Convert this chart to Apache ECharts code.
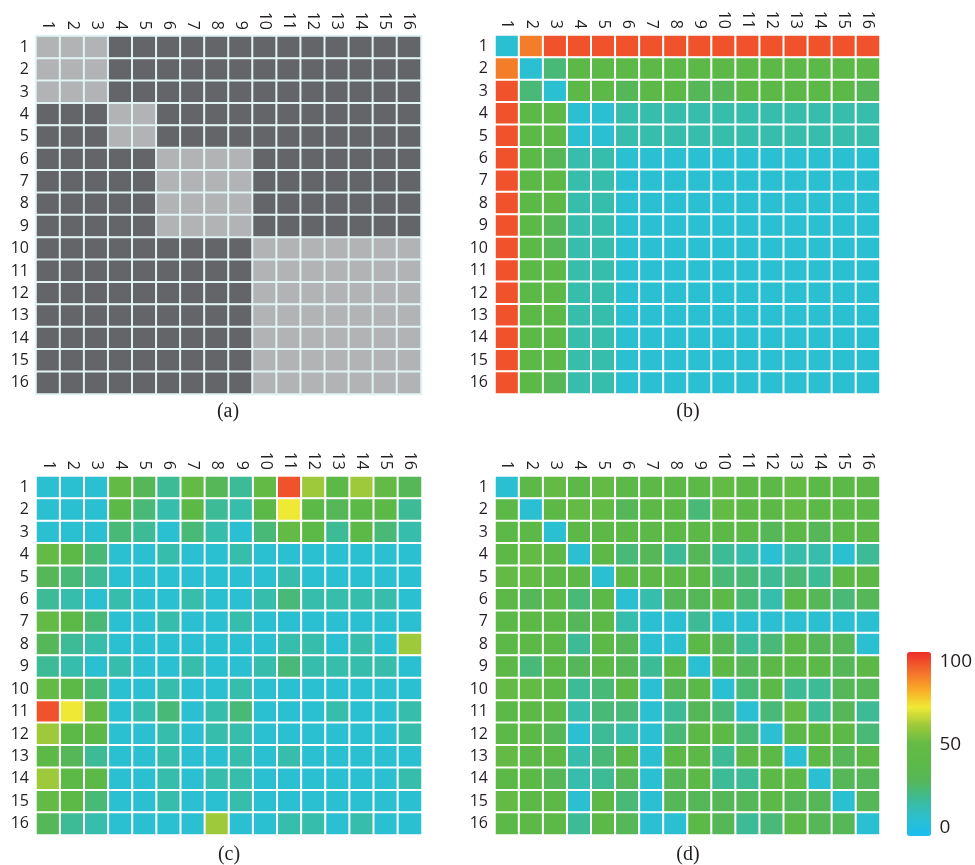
<!DOCTYPE html>
<html>
<head>
<meta charset="utf-8">
<script src="https://cdn.jsdelivr.net/npm/echarts@6/dist/echarts.min.js"></script>
<style>
  html, body { margin: 0; padding: 0; background: #fff; }
  #main { width: 975px; height: 865px; }
</style>
</head>
<body>
<div id="main"></div>
<script>
// axis tick labels (rows and columns)
const labels = ['1', '2', '3', '4', '5', '6', '7', '8', '9', '10', '11', '12', '13', '14', '15', '16'];
const captions = ['(a)', '(b)', '(c)', '(d)'];
const colorbarTicks = [0, 50, 100];

// (a) block membership: 1 = same block (light), 0 = other (dark)
const matA = [
  [1, 1, 1, 0, 0, 0, 0, 0, 0, 0, 0, 0, 0, 0, 0, 0],
  [1, 1, 1, 0, 0, 0, 0, 0, 0, 0, 0, 0, 0, 0, 0, 0],
  [1, 1, 1, 0, 0, 0, 0, 0, 0, 0, 0, 0, 0, 0, 0, 0],
  [0, 0, 0, 1, 1, 0, 0, 0, 0, 0, 0, 0, 0, 0, 0, 0],
  [0, 0, 0, 1, 1, 0, 0, 0, 0, 0, 0, 0, 0, 0, 0, 0],
  [0, 0, 0, 0, 0, 1, 1, 1, 1, 0, 0, 0, 0, 0, 0, 0],
  [0, 0, 0, 0, 0, 1, 1, 1, 1, 0, 0, 0, 0, 0, 0, 0],
  [0, 0, 0, 0, 0, 1, 1, 1, 1, 0, 0, 0, 0, 0, 0, 0],
  [0, 0, 0, 0, 0, 1, 1, 1, 1, 0, 0, 0, 0, 0, 0, 0],
  [0, 0, 0, 0, 0, 0, 0, 0, 0, 1, 1, 1, 1, 1, 1, 1],
  [0, 0, 0, 0, 0, 0, 0, 0, 0, 1, 1, 1, 1, 1, 1, 1],
  [0, 0, 0, 0, 0, 0, 0, 0, 0, 1, 1, 1, 1, 1, 1, 1],
  [0, 0, 0, 0, 0, 0, 0, 0, 0, 1, 1, 1, 1, 1, 1, 1],
  [0, 0, 0, 0, 0, 0, 0, 0, 0, 1, 1, 1, 1, 1, 1, 1],
  [0, 0, 0, 0, 0, 0, 0, 0, 0, 1, 1, 1, 1, 1, 1, 1],
  [0, 0, 0, 0, 0, 0, 0, 0, 0, 1, 1, 1, 1, 1, 1, 1]
];

// (b)
const matB = [
  [9, 87, 94, 94, 94, 94, 94, 94, 94, 94, 94, 94, 94, 94, 94, 94],
  [87, 9, 25, 40, 40, 40, 40, 40, 40, 40, 40, 40, 40, 40, 40, 40],
  [94, 25, 9, 40, 40, 31, 40, 40, 31, 31, 40, 40, 40, 40, 40, 31],
  [94, 40, 40, 9, 9, 16, 16, 16, 16, 16, 16, 16, 16, 16, 16, 16],
  [94, 40, 40, 9, 9, 16, 16, 16, 16, 16, 16, 16, 16, 16, 16, 16],
  [94, 40, 31, 16, 16, 9, 9, 9, 9, 9, 9, 9, 9, 9, 9, 9],
  [94, 40, 40, 16, 16, 9, 9, 9, 9, 9, 9, 9, 9, 9, 9, 9],
  [94, 40, 40, 16, 16, 9, 9, 9, 9, 9, 9, 9, 9, 9, 9, 9],
  [94, 40, 31, 16, 16, 9, 9, 9, 9, 9, 9, 9, 9, 9, 9, 9],
  [94, 40, 31, 16, 16, 9, 9, 9, 9, 9, 9, 9, 9, 9, 9, 9],
  [94, 40, 40, 16, 16, 9, 9, 9, 9, 9, 9, 9, 9, 9, 9, 9],
  [94, 40, 40, 16, 16, 9, 9, 9, 9, 9, 9, 9, 9, 9, 9, 9],
  [94, 40, 40, 16, 16, 9, 9, 9, 9, 9, 9, 9, 9, 9, 9, 9],
  [94, 40, 40, 16, 16, 9, 9, 9, 9, 9, 9, 9, 9, 9, 9, 9],
  [94, 40, 40, 16, 16, 9, 9, 9, 9, 9, 9, 9, 9, 9, 9, 9],
  [94, 40, 31, 16, 16, 9, 9, 9, 9, 9, 9, 9, 9, 9, 9, 9]
];

// (c)
const matC = [
  [9, 9, 9, 48, 31, 20, 48, 31, 20, 48, 94, 60, 40, 60, 48, 31],
  [9, 9, 9, 40, 25, 16, 40, 20, 16, 40, 70, 40, 31, 40, 40, 20],
  [9, 9, 9, 25, 20, 9, 25, 16, 9, 25, 48, 40, 20, 40, 25, 16],
  [48, 40, 25, 9, 9, 16, 9, 9, 16, 9, 9, 9, 9, 9, 9, 9],
  [31, 25, 20, 9, 9, 9, 9, 9, 9, 9, 16, 9, 9, 9, 9, 9],
  [20, 16, 9, 16, 9, 9, 16, 9, 9, 16, 25, 16, 16, 16, 16, 9],
  [48, 40, 25, 9, 9, 16, 9, 9, 16, 9, 9, 9, 9, 9, 9, 9],
  [31, 20, 16, 9, 9, 9, 9, 9, 9, 9, 16, 16, 9, 16, 9, 60],
  [20, 16, 9, 16, 9, 9, 16, 9, 9, 16, 25, 16, 16, 16, 16, 9],
  [48, 40, 25, 9, 9, 16, 9, 9, 16, 9, 9, 9, 9, 9, 9, 9],
  [94, 70, 48, 9, 16, 25, 9, 16, 25, 9, 9, 9, 16, 9, 9, 16],
  [60, 40, 40, 9, 9, 16, 9, 16, 16, 9, 9, 9, 9, 9, 9, 16],
  [40, 31, 20, 9, 9, 16, 9, 9, 16, 9, 16, 9, 9, 9, 9, 9],
  [60, 40, 40, 9, 9, 16, 9, 16, 16, 9, 9, 9, 9, 9, 9, 16],
  [48, 40, 25, 9, 9, 16, 9, 9, 16, 9, 9, 9, 9, 9, 9, 9],
  [31, 20, 16, 9, 9, 9, 9, 60, 9, 9, 16, 16, 9, 16, 9, 9]
];

// (d)
const matD = [
  [9, 40, 48, 40, 48, 40, 40, 40, 40, 48, 40, 40, 48, 40, 40, 40],
  [40, 9, 40, 48, 48, 31, 40, 40, 25, 48, 40, 40, 48, 40, 40, 40],
  [40, 40, 9, 40, 40, 40, 40, 40, 40, 40, 40, 31, 40, 31, 40, 40],
  [40, 48, 40, 9, 40, 25, 31, 20, 31, 20, 16, 9, 16, 16, 9, 20],
  [48, 48, 40, 40, 9, 40, 40, 40, 40, 25, 25, 20, 25, 20, 40, 40],
  [40, 31, 40, 25, 40, 9, 16, 31, 31, 40, 25, 16, 40, 31, 25, 31],
  [40, 40, 40, 31, 40, 16, 9, 9, 20, 9, 9, 9, 9, 9, 9, 9],
  [40, 40, 40, 20, 40, 31, 9, 9, 40, 31, 20, 25, 40, 31, 31, 9],
  [40, 25, 40, 31, 40, 31, 20, 40, 9, 40, 31, 40, 40, 40, 31, 40],
  [48, 48, 40, 20, 25, 40, 9, 31, 40, 9, 25, 40, 20, 20, 31, 31],
  [40, 40, 40, 16, 25, 25, 9, 20, 31, 25, 9, 25, 48, 20, 31, 20],
  [40, 40, 31, 9, 20, 16, 9, 25, 40, 40, 25, 9, 40, 40, 40, 25],
  [48, 40, 40, 16, 25, 40, 9, 40, 40, 20, 40, 40, 9, 40, 31, 40],
  [40, 40, 31, 16, 20, 31, 9, 31, 40, 20, 20, 40, 40, 9, 31, 31],
  [48, 40, 40, 9, 40, 25, 9, 31, 31, 31, 31, 40, 31, 31, 9, 31],
  [40, 40, 40, 20, 40, 31, 9, 9, 40, 31, 20, 25, 40, 31, 31, 9]
];

const matrices = [matA, matB, matC, matD];

const textColor = '#231F20';
const labelFont = '"Open Sans", "Noto Sans", sans-serif';

// panel placement
const panels = [
  { left: 36, top: 36, width: 385, height: 358, capX: 228, capY: 412 },
  { left: 495, top: 35, width: 385, height: 359, capX: 688, capY: 412 },
  { left: 36, top: 476, width: 386, height: 359, capX: 229, capY: 855 },
  { left: 495, top: 476, width: 385, height: 359, capX: 688, capY: 855 }
];
const bar = { left: 907, top: 652, width: 24, height: 184 };

function toCells(mat) {
  const out = [];
  mat.forEach((row, r) => {
    row.forEach((v, c) => {
      out.push([c, r, v]);
    });
  });
  return out;
}

const grid = panels.map((p) => ({ left: p.left, top: p.top, width: p.width, height: p.height }));
// small grid only used to place the colour bar tick labels
grid.push({ left: bar.left, top: bar.top + 10, width: bar.width, height: bar.height - 18 });

const xAxis = panels.map((p, i) => ({
  type: 'category',
  gridIndex: i,
  position: 'top',
  data: labels,
  axisLine: { show: false },
  axisTick: { show: false },
  splitLine: { show: false },
  axisLabel: {
    rotate: 90,
    margin: 6,
    fontSize: 16,
    fontFamily: labelFont,
    color: textColor,
    interval: 0,
  },
}));
xAxis.push({ type: 'value', gridIndex: 4, show: false });

const yAxis = panels.map((p, i) => ({
  type: 'category',
  gridIndex: i,
  inverse: true,
  data: labels,
  axisLine: { show: false },
  axisTick: { show: false },
  splitLine: { show: false },
  axisLabel: {
    margin: 7,
    fontSize: 16,
    fontFamily: labelFont,
    color: textColor,
    interval: 0,
  },
}));
yAxis.push({
  type: 'value',
  gridIndex: 4,
  position: 'right',
  min: colorbarTicks[0],
  max: colorbarTicks[colorbarTicks.length - 1],
  interval: 50,
  axisLine: { show: false },
  axisTick: { show: false },
  splitLine: { show: false },
  axisLabel: {
    margin: 9,
    fontSize: 19,
    fontFamily: labelFont,
    color: textColor,
  },
});

const series = matrices.map((m, i) => ({
  type: 'heatmap',
  xAxisIndex: i,
  yAxisIndex: i,
  data: toCells(m),
  itemStyle: {
    borderColor: i === 0 ? '#E2F3F3' : '#FFFFFF',
    borderWidth: 2,
  },
  emphasis: { disabled: true },
}));

const options = {
  animation: false,
  backgroundColor: '#fff',
  grid,
  xAxis,
  yAxis,
  visualMap: [
    {
      type: 'piecewise',
      show: false,
      seriesIndex: 0,
      pieces: [
        { value: 0, color: '#646568' },
        { value: 1, color: '#B1B3B5' },
      ],
    },
    {
      type: 'continuous',
      seriesIndex: [1, 2, 3],
      min: 0,
      max: 100,
      calculable: false,
      padding: 0,
      left: bar.left,
      top: bar.top,
      itemWidth: bar.width,
      itemHeight: bar.height,
      inRange: {
        color: [
          '#1BBEF0', '#2CBFCE', '#3CBB96', '#55B75A', '#5DB947', '#64BA45',
          '#9DC93A', '#EFE936', '#F9A826', '#F26A2C', '#EE2D2A',
        ],
      },
    },
  ],
  graphic: panels.map((p, i) => ({
    type: 'text',
    x: p.capX,
    y: p.capY,
    style: {
      text: captions[i],
      fill: textColor,
      font: '20px "Liberation Serif", serif',
      textAlign: 'center',
      textVerticalAlign: 'middle',
    },
  })),
  series,
};

const myChart = echarts.init(document.getElementById('main'));
myChart.setOption(options);
</script>
</body>
</html>
